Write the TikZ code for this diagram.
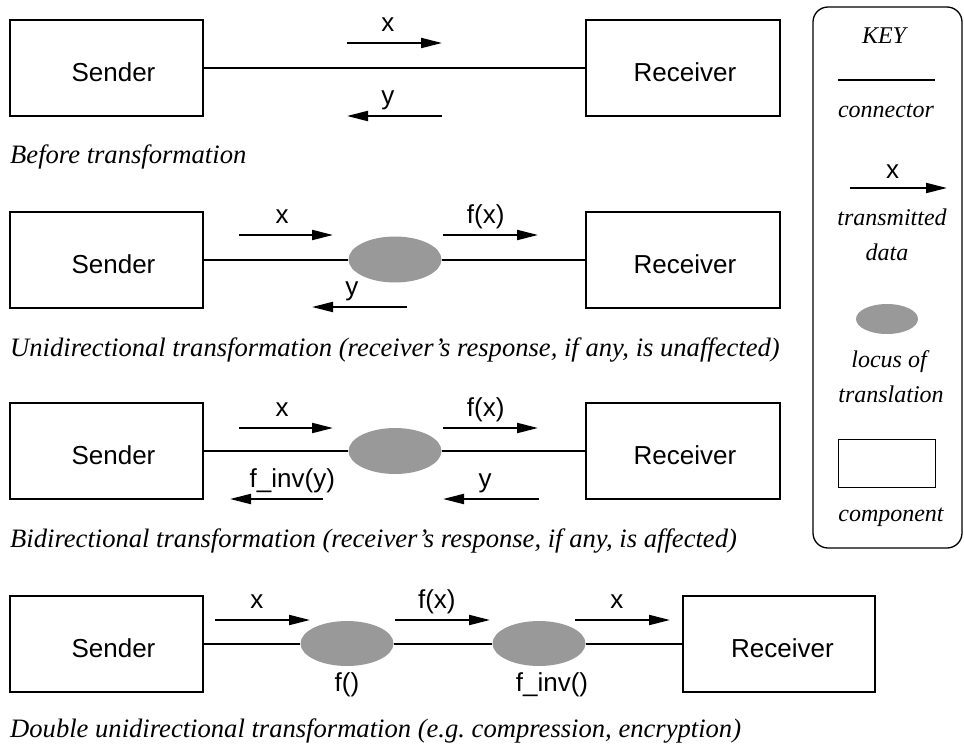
\documentclass[tikz,border=0pt]{standalone}
\usepackage{fontspec}
\setmainfont{Liberation Serif}
\setsansfont{Liberation Sans}
\usetikzlibrary{arrows.meta,shapes.geometric}
\definecolor{locusgray}{gray}{0.6}
\frenchspacing
\tikzset{
  component/.style={draw, line width=2pt, minimum width=193pt, minimum height=96pt, inner sep=0pt},
  boxtext/.style={font=\sffamily\fontsize{26}{30}\selectfont, inner sep=0pt},
  locus/.style={ellipse, fill=locusgray, minimum width=93pt, minimum height=46pt, inner sep=0pt},
  link/.style={line width=2pt},
  data/.style={line width=2pt, -{Triangle[length=21pt,width=10pt]}},
  lab/.style={font=\sffamily\fontsize{26}{30}\selectfont, anchor=base, inner sep=0pt, yshift=12pt},
  fnlab/.style={font=\sffamily\fontsize{26}{30}\selectfont, anchor=base, inner sep=0pt},
  caption/.style={font=\fontsize{26.6}{30}\selectfont\itshape, anchor=base west, inner sep=0pt},
  keytext/.style={font=\fontsize{24}{28}\selectfont\itshape, anchor=base, inner sep=0pt},
}
\begin{document}
\begin{tikzpicture}[x=1pt,y=-1pt]
\useasboundingbox (0,0) rectangle (964,747);

% ---- Before transformation ----
\node[component] (S1) at (106.5,67.5) {};
\node[component, minimum width=194pt] (R1) at (683,67.5) {};
\node[boxtext] (S1t) at ([shift={(7,4.5)}]S1.center) {Sender};
\node[boxtext] (R1t) at ([shift={(2,4.5)}]R1.center) {Receiver};
\draw[link] (S1.east) -- (R1.west);
\coordinate (a1s) at (347,43);  \coordinate (a1e) at (442,43);
\coordinate (b1s) at (442,116); \coordinate (b1e) at (347,116);
\draw[data] (a1s) -- (a1e) node[lab,pos=0.43] (l1x) {x};
\draw[data] (b1s) -- (b1e) node[lab,pos=0.57] (l1y) {y};
\node[caption] (c1) at (10,163) {Before transformation};

% ---- Unidirectional transformation ----
\node[component] (S2) at (106.5,259.5) {};
\node[component, minimum width=194pt] (R2) at (683,259.5) {};
\node[boxtext] (S2t) at ([shift={(7,4.5)}]S2.center) {Sender};
\node[boxtext] (R2t) at ([shift={(2,4.5)}]R2.center) {Receiver};
\node[locus] (E2) at (395,259.5) {};
\draw[link] (S2.east) -- (E2.west);
\draw[link] (E2.east) -- (R2.west);
\coordinate (a2s) at (239,235); \coordinate (a2e) at (333,235);
\coordinate (f2s) at (443,235); \coordinate (f2e) at (538,235);
\coordinate (b2s) at (407,307); \coordinate (b2e) at (312,307);
\draw[data] (a2s) -- (a2e) node[lab,pos=0.46] (l2x) {x};
\draw[data] (f2s) -- (f2e) node[lab,pos=0.45] (l2f) {f(x)};
\draw[data] (b2s) -- (b2e) node[lab,pos=0.58] (l2y) {y};
\node[caption] (c2) at (10,356) {Unidirectional transformation (receiver's response, if any, is unaffected)};

% ---- Bidirectional transformation ----
\node[component] (S3) at (106.5,451) {};
\node[component, minimum width=194pt] (R3) at (683,451) {};
\node[boxtext] (S3t) at ([shift={(7,4.5)}]S3.center) {Sender};
\node[boxtext] (R3t) at ([shift={(2,4.5)}]R3.center) {Receiver};
\node[locus] (E3) at (395,451) {};
\draw[link] (S3.east) -- (E3.west);
\draw[link] (E3.east) -- (R3.west);
\coordinate (a3s) at (239,428); \coordinate (a3e) at (333,428);
\coordinate (f3s) at (443,428); \coordinate (f3e) at (538,428);
\coordinate (g3s) at (323,499); \coordinate (g3e) at (230,499);
\coordinate (b3s) at (539,499); \coordinate (b3e) at (443,499);
\draw[data] (a3s) -- (a3e) node[lab,pos=0.46] (l3x) {x};
\draw[data] (f3s) -- (f3e) node[lab,pos=0.45] (l3f) {f(x)};
\draw[data] (g3s) -- (g3e) node[lab,pos=0.33] (l3g) {f\_inv(y)};
\draw[data] (b3s) -- (b3e) node[lab,pos=0.56] (l3y) {y};
\node[caption] (c3) at (10,547) {Bidirectional transformation (receiver's response, if any, is affected)};

% ---- Double unidirectional transformation ----
\node[component] (S4) at (106.5,643.5) {};
\node[component, minimum width=192pt] (R4) at (779,643.5) {};
\node[boxtext] (S4t) at ([shift={(7,4.5)}]S4.center) {Sender};
\node[boxtext] (R4t) at ([shift={(3.5,4.5)}]R4.center) {Receiver};
\node[locus, minimum height=45pt] (E4a) at (347,643.5) {};
\node[locus, minimum height=45pt] (E4b) at (539,643.5) {};
\draw[link] (S4.east) -- (E4a.west);
\draw[link] (E4a.east) -- (E4b.west);
\draw[link] (E4b.east) -- (R4.west);
\coordinate (a4s) at (215,620); \coordinate (a4e) at (310,620);
\coordinate (f4s) at (395,620); \coordinate (f4e) at (490,620);
\coordinate (x4s) at (575,620); \coordinate (x4e) at (670,620);
\draw[data] (a4s) -- (a4e) node[lab,pos=0.44] (l4x) {x};
\draw[data] (f4s) -- (f4e) node[lab,pos=0.44] (l4f) {f(x)};
\draw[data] (x4s) -- (x4e) node[lab,pos=0.44] (l4x2) {x};
\node[fnlab] (fa) at (347,691) {f()};
\node[fnlab] (fb) at (552,691) {f\_inv()};
\node[caption] (c4) at (10,737) {Double unidirectional transformation (e.g. compression, encryption)};

% ---- Key ----
\node[draw, line width=1.3pt, rounded corners=15pt, minimum width=149pt, minimum height=541pt, inner sep=0pt] (keyframe) at (887.5,277.5) {};
\node[keytext] (kt) at (884,43) {KEY};
\coordinate (kcl) at (838,80); \coordinate (kcr) at (935,80);
\draw[link] (kcl) -- (kcr);
\node[keytext] (kc) at (886,117) {connector};
\coordinate (kas) at (850,188); \coordinate (kae) at (947,188);
\draw[data] (kas) -- (kae) node[lab,pos=0.44,yshift=-2pt] (kx) {x};
\node[keytext] (kd1) at (892,225) {transmitted};
\node[keytext] (kd2) at (887,260) {data};
\node[locus, minimum width=62pt, minimum height=30pt] (ke) at (887,319) {};
\node[keytext] (kl1) at (889,367) {locus of};
\node[keytext] (kl2) at (891,402) {translation};
\node[draw, line width=1pt, minimum width=97pt, minimum height=48pt, inner sep=0pt] (kr) at (886.5,463) {};
\node[keytext] (kcomp) at (891,521) {component};
\end{tikzpicture}
\end{document}
